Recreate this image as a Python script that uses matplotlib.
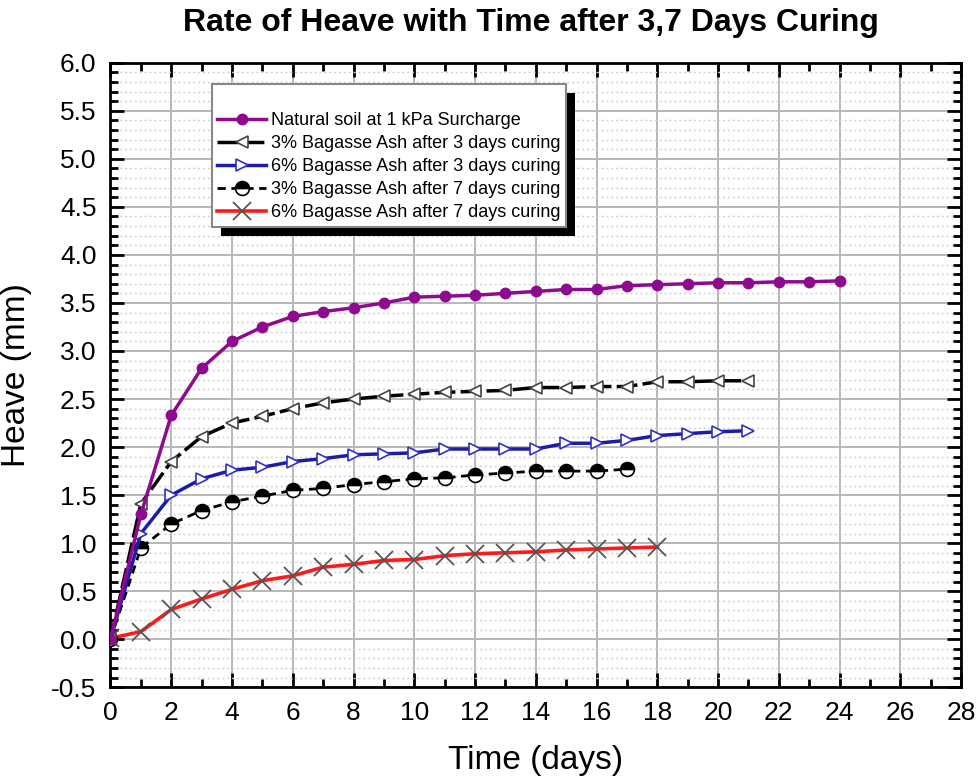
import matplotlib
matplotlib.use("Agg")
import matplotlib.pyplot as plt
from matplotlib.patches import Rectangle
from matplotlib.ticker import MultipleLocator

plt.rcParams["font.family"] = ["Liberation Sans", "DejaVu Sans"]

# readings
days_24 = list(range(0, 25))
days_21 = list(range(0, 22))
days_17 = list(range(0, 18))
days_18 = list(range(0, 19))

natural_soil = [0.0, 1.30, 2.33, 2.82, 3.10, 3.25, 3.36, 3.41, 3.45, 3.50, 3.56, 3.57,
                3.58, 3.60, 3.62, 3.64, 3.64, 3.68, 3.69, 3.70, 3.71, 3.71, 3.72, 3.72, 3.73]
ash3_day3 = [0.0, 1.41, 1.85, 2.11, 2.25, 2.32, 2.40, 2.46, 2.50, 2.53, 2.55, 2.57,
             2.58, 2.59, 2.62, 2.62, 2.63, 2.63, 2.68, 2.68, 2.69, 2.69]
ash6_day3 = [0.0, 1.10, 1.50, 1.67, 1.76, 1.79, 1.85, 1.88, 1.92, 1.93, 1.94, 1.98,
             1.98, 1.98, 1.98, 2.04, 2.04, 2.07, 2.12, 2.14, 2.16, 2.17]
ash3_day7 = [0.0, 0.95, 1.20, 1.34, 1.43, 1.49, 1.55, 1.57, 1.61, 1.64, 1.67, 1.68,
             1.71, 1.73, 1.75, 1.75, 1.75, 1.77]
ash6_day7 = [0.01, 0.08, 0.31, 0.42, 0.52, 0.61, 0.66, 0.75, 0.78, 0.82, 0.83, 0.87,
             0.89, 0.90, 0.91, 0.93, 0.94, 0.95, 0.96]

fig = plt.figure(figsize=(9.77, 7.83), dpi=100)
ax = fig.add_axes([0.1131, 0.1222, 0.8706, 0.7977])

ax.plot(days_18, ash6_day7, color="#ff1a1a", lw=2.6, marker="x", ms=13, mec="#555555",
        mew=1.3, label="6% Bagasse Ash after 7 days curing", zorder=3)
ax.plot(days_17, ash3_day7, color="black", lw=2, ls=(0, (3, 2)), marker="o", ms=10,
        fillstyle="top", mfc="black", mfcalt="white", mec="black", mew=1.2,
        label="3% Bagasse Ash after 7 days curing", zorder=4)
ax.plot(days_21, ash6_day3, color="#1c1caa", lw=2.5, marker=">", ms=8, mfc="white",
        mec="#3030c8", mew=1.2, label="6% Bagasse Ash after 3 days curing", zorder=4)
ax.plot(days_21, ash3_day3, color="black", lw=2.5, ls=(0, (6, 1.5)), marker="<", ms=8,
        mfc="white", mec="#444444", mew=1.2, label="3% Bagasse Ash after 3 days curing",
        zorder=5)
ax.plot(days_24, natural_soil, color="#8e0a8e", lw=2.5, marker="o", ms=7.5,
        label="Natural soil at 1 kPa Surcharge", zorder=6)

ax.set_xlim(0, 28)
ax.set_ylim(-0.5, 6.0)
ax.xaxis.set_major_locator(MultipleLocator(2))
ax.xaxis.set_minor_locator(MultipleLocator(1))
ax.yaxis.set_major_locator(MultipleLocator(0.5))
ax.yaxis.set_minor_locator(MultipleLocator(0.1))
ax.yaxis.set_major_formatter(lambda v, p: f"{v:.1f}")

ax.grid(which="major", color="#b8b8b8", lw=1.4, zorder=0)
ax.grid(which="minor", axis="y", color="#d0d0d0", lw=1.0, ls=(0, (1.5, 2)), zorder=0)
ax.set_axisbelow(True)

ax.tick_params(which="both", direction="in", top=True, right=True, width=2,
               labelsize=19, colors="black")
ax.tick_params(which="major", length=10, pad=10)
ax.tick_params(which="minor", length=5.5)
for sp in ax.spines.values():
    sp.set_linewidth(2)

ax.set_xlabel("Time (days)", fontsize=24, labelpad=14)
ax.set_ylabel("Heave (mm)", fontsize=24, labelpad=14)
fig.text(0.543, 0.971, "Rate of Heave with Time after 3,7 Days Curing",
         fontsize=23, fontweight="bold", ha="center", va="center")

handles, labels = ax.get_legend_handles_labels()
leg = ax.legend(handles[::-1], labels[::-1], loc="upper left",
                bbox_to_anchor=(0.119, 0.966), borderaxespad=0, fontsize=13,
                title=" ", title_fontsize=13, handlelength=2.7, handletextpad=0.3,
                labelspacing=0.33, borderpad=0.3, fancybox=False, framealpha=1,
                edgecolor="#888888")
leg.get_frame().set_linewidth(1.5)
leg.set_zorder(10)

# offset black shadow behind legend
fig.canvas.draw()
bb = leg.get_window_extent().transformed(ax.transAxes.inverted())
dx, dy = 9 / 850.5, 9 / 624.6
ax.add_patch(Rectangle((bb.x0 + dx, bb.y0 - dy), bb.width, bb.height, facecolor="black",
                       edgecolor="none", transform=ax.transAxes, clip_on=False, zorder=9))

fig.savefig("out.png", dpi=100)
